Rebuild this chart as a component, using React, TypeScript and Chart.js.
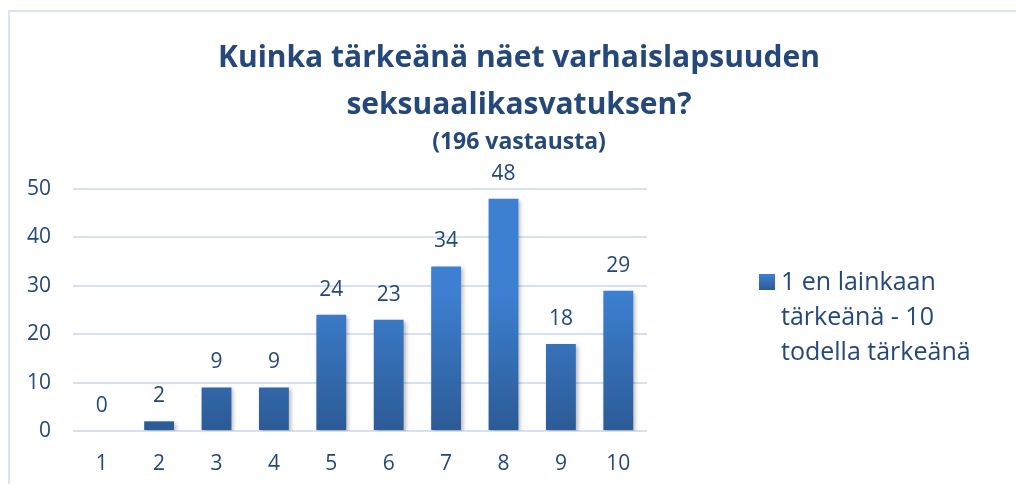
import React, { useEffect, useRef } from "react";
import { Chart, registerables } from "chart.js";

Chart.register(...registerables);

const categories = ["1", "2", "3", "4", "5", "6", "7", "8", "9", "10"];
const values = [0, 2, 9, 9, 24, 23, 34, 48, 18, 29];
const seriesName = "1 en lainkaan tärkeänä - 10 todella tärkeänä";
const legendLines = ["1 en lainkaan", "tärkeänä - 10", "todella tärkeänä"];
const titleLines = ["Kuinka tärkeänä näet varhaislapsuuden", "seksuaalikasvatuksen?"];
const subtitleText = "(196 vastausta)";

const TEXT = "#24487a";
const FONT = "'Open Sans', 'Noto Sans', sans-serif";
const TOP_COLOR = "#3d80d2";
const BOTTOM_COLOR = "#2c5b96";

export default function App() {
  const ref = useRef<HTMLCanvasElement | null>(null);

  useEffect(() => {
    if (!ref.current) return;

    const framePlugin = {
      id: "frame",
      beforeDraw(chart: any) {
        const ctx = chart.ctx;
        ctx.save();
        ctx.fillStyle = "#ffffff";
        ctx.fillRect(0, 0, chart.width, chart.height);
        ctx.strokeStyle = "#d9e5f5";
        ctx.lineWidth = 2;
        ctx.strokeRect(9, 11, chart.width + 20, chart.height + 20);
        ctx.restore();
      },
    };

    const barStyle = {
      id: "barStyle",
      beforeDatasetsDraw(chart: any) {
        const ctx = chart.ctx;
        chart.getDatasetMeta(0).data.forEach((bar: any) => {
          const top = Math.min(bar.y, bar.base);
          const bottom = Math.max(bar.y, bar.base);
          const g = ctx.createLinearGradient(0, top, 0, Math.max(bottom, top + 1));
          g.addColorStop(0, TOP_COLOR);
          g.addColorStop(1, BOTTOM_COLOR);
          bar.options.backgroundColor = g;
        });
      },
      beforeDatasetDraw(chart: any) {
        const ctx = chart.ctx;
        ctx.save();
        ctx.shadowColor = "rgba(0,0,0,0.28)";
        ctx.shadowBlur = 4;
        ctx.shadowOffsetX = 2;
        ctx.shadowOffsetY = 2;
      },
      afterDatasetDraw(chart: any) {
        chart.ctx.restore();
      },
      afterDatasetsDraw(chart: any) {
        const ctx = chart.ctx;
        const ds = chart.data.datasets[0];
        ctx.save();
        ctx.fillStyle = TEXT;
        ctx.font = `21px ${FONT}`;
        ctx.textAlign = "center";
        ctx.textBaseline = "middle";
        chart.getDatasetMeta(0).data.forEach((bar: any, i: number) => {
          ctx.fillText(String(ds.data[i]), bar.x, bar.y - 25);
        });
        ctx.restore();
      },
    };

    const customLegend = {
      id: "customLegend",
      afterDraw(chart: any) {
        const ctx = chart.ctx;
        const x = 759;
        const y = 274;
        ctx.save();
        const g = ctx.createLinearGradient(0, y, 0, y + 16);
        g.addColorStop(0, TOP_COLOR);
        g.addColorStop(1, BOTTOM_COLOR);
        ctx.fillStyle = g;
        ctx.fillRect(x, y, 16, 16);
        ctx.fillStyle = TEXT;
        ctx.font = `25px ${FONT}`;
        ctx.textAlign = "left";
        ctx.textBaseline = "middle";
        legendLines.forEach((line, i) => {
          ctx.fillText(line, 781, 283 + i * 35);
        });
        ctx.restore();
      },
    };

    const chart = new Chart(ref.current, {
      type: "bar",
      data: {
        labels: categories,
        datasets: [
          {
            label: seriesName,
            data: values,
            backgroundColor: TOP_COLOR,
            borderWidth: 0,
            barPercentage: 0.52,
            categoryPercentage: 1,
          },
        ],
      },
      options: {
        responsive: false,
        animation: false,
        layout: { padding: { left: 22, right: 0, top: 0, bottom: 9 } },
        plugins: {
          legend: { display: false },
          tooltip: { enabled: false },
          title: {
            display: true,
            text: titleLines,
            color: TEXT,
            font: { family: FONT, size: 30, weight: "bold", lineHeight: 47 / 30 },
            padding: { top: 35, bottom: 0 },
          },
          subtitle: {
            display: true,
            text: subtitleText,
            color: TEXT,
            font: { family: FONT, size: 23, weight: "bold", lineHeight: 26 / 23 },
            padding: { top: 0, bottom: 34 },
          },
        },
        scales: {
          x: {
            grid: { display: false, drawTicks: false },
            border: { display: false },
            ticks: { color: TEXT, font: { family: FONT, size: 21 }, padding: 20 },
            afterFit: (s: any) => {
              s.height = 44;
            },
          },
          y: {
            min: 0,
            max: 50,
            grid: { color: "#d6e1f1", lineWidth: 2, drawTicks: false },
            border: { display: false },
            ticks: { stepSize: 10, color: TEXT, font: { family: FONT, size: 21 }, padding: 22 },
            afterFit: (s: any) => {
              s.width = 51;
            },
          },
          spacer: {
            type: "linear",
            position: "right",
            display: true,
            grid: { display: false, drawTicks: false },
            border: { display: false },
            ticks: { display: false },
            afterFit: (s: any) => {
              s.width = 369;
            },
          },
        },
      },
      plugins: [framePlugin, barStyle, customLegend],
    });

    return () => chart.destroy();
  }, []);

  return (
    <div style={{ position: "absolute", left: 0, top: 0, width: 1016, height: 484 }}>
      <canvas ref={ref} width={1016} height={484} style={{ display: "block" }} />
    </div>
  );
}
